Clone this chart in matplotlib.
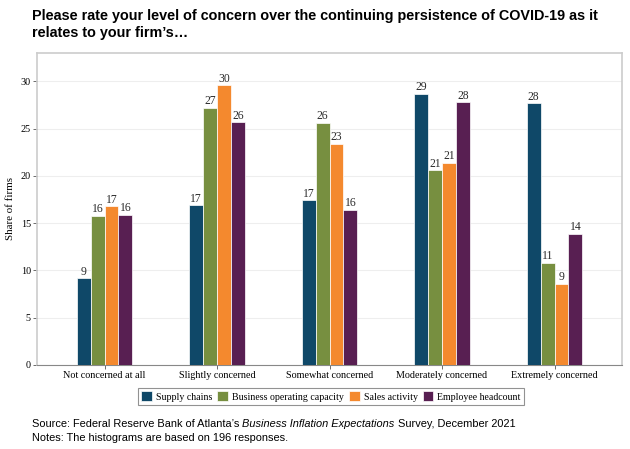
import numpy as np
import matplotlib.pyplot as plt

categories = ["Not concerned at all", "Slightly concerned", "Somewhat concerned",
              "Moderately concerned", "Extremely concerned"]
series = ["Supply chains", "Business operating capacity", "Sales activity", "Employee headcount"]
supply_chains = [9.2, 16.9, 17.4, 28.7, 27.7]
operating_capacity = [15.8, 27.2, 25.6, 20.6, 10.8]
sales_activity = [16.8, 29.6, 23.4, 21.4, 8.6]
headcount = [15.9, 25.7, 16.4, 27.8, 13.9]
colors = ["#0f4868", "#778f40", "#f4892e", "#581f52"]

values = [supply_chains, operating_capacity, sales_activity, headcount]

plt.rcParams['font.family'] = ['Liberation Serif']
fig = plt.figure(figsize=(6.3, 4.49), dpi=100)
ax = fig.add_axes([37/630, 1-365/449, (622-37)/630, (365-53)/449])

x = np.arange(len(categories))
w = 0.124
for i, (name, vals) in enumerate(zip(series, values)):
    bars = ax.bar(x + (i - 1.5) * w, vals, w, color=colors[i], label=name,
                  edgecolor='white', linewidth=0.5, zorder=3)
    for b, v in zip(bars, vals):
        ax.text(b.get_x() + b.get_width()/2, v + 0.05, str(int(round(v))),
                ha='center', va='bottom', fontsize=8.4, color='#2a2a2a', zorder=4)

ax.set_xlim(-0.6, 4.6)
ax.set_ylim(0, 33)
ax.set_yticks(range(0, 31, 5))
ax.set_xticks(x)
ax.set_xticklabels(categories)
ax.tick_params(axis='both', labelsize=7.3, color='#555555', length=3, width=0.6, pad=1.5)
ax.set_ylabel("Share of firms", fontsize=7.8, labelpad=4)
ax.yaxis.grid(True, color='#eeeeee', linewidth=0.8, zorder=0)
for s in ['top', 'right', 'left']:
    ax.spines[s].set_color('#cccccc')
    ax.spines[s].set_linewidth(1.2)
ax.spines['bottom'].set_color('#888888')
ax.spines['bottom'].set_linewidth(0.8)

leg = fig.legend(loc='center', bbox_to_anchor=(331/630, 1-396.5/449), ncol=4,
                 fontsize=7.1, frameon=True, fancybox=False, handlelength=1.1,
                 handleheight=1.1, handletextpad=0.4, columnspacing=0.5,
                 borderpad=0.35)
leg.get_frame().set_edgecolor('#777777')
leg.get_frame().set_linewidth(0.8)

fig.text(32/630, 1-9/449,
         "Please rate your level of concern over the continuing persistence of COVID-19 as it\nrelates to your firm\u2019s\u2026",
         fontsize=10.35, fontweight='bold', family='Liberation Sans', va='top', ha='left',
         linespacing=1.25)

fs = 7.9
t1 = fig.text(32/630, 1-427/449, "Source: Federal Reserve Bank of Atlanta\u2019s ",
              fontsize=fs, family='Liberation Sans', va='baseline')
t2 = fig.text(0, 0, "Business Inflation Expectations", fontsize=fs,
              family='Liberation Sans', style='italic', va='baseline')
t3 = fig.text(0, 0, " Survey, December 2021", fontsize=fs,
              family='Liberation Sans', va='baseline')
fig.text(32/630, 1-441/449, "Notes: The histograms are based on 196 responses.",
         fontsize=fs, family='Liberation Sans', va='baseline')

fig.canvas.draw()
r = fig.canvas.get_renderer()
inv = fig.transFigure.inverted()
e1 = t1.get_window_extent(r)
t2.set_position((inv.transform((e1.x1, 0))[0], 1-427/449))
e2 = t2.get_window_extent(r)
t3.set_position((inv.transform((e2.x1, 0))[0], 1-427/449))

fig.savefig("out.png", dpi=100)
